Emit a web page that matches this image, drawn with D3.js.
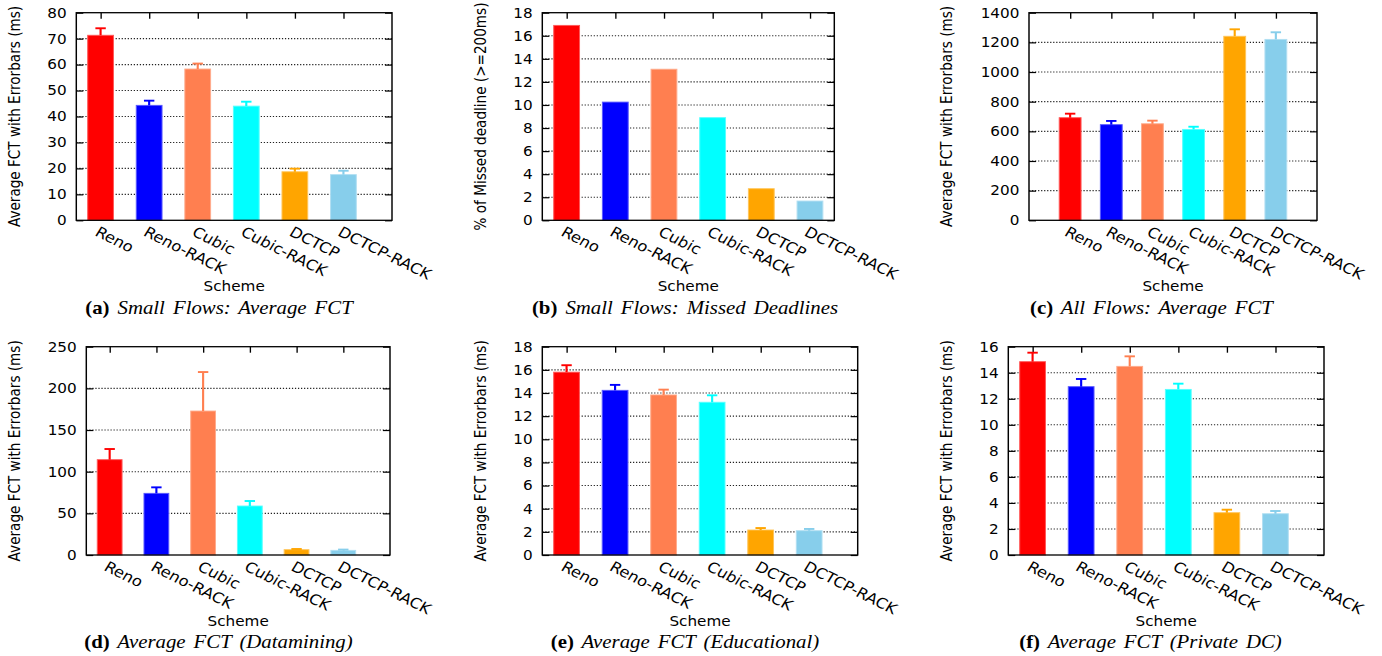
<!DOCTYPE html>
<html><head><meta charset="utf-8">
<script src="https://cdn.jsdelivr.net/npm/d3@7"></script>
<style>html,body{margin:0;padding:0;background:#fff;} svg{display:block;}</style>
</head><body>
<script>
// ---------- data ----------
const schemes = ["Reno", "Reno-RACK", "Cubic", "Cubic-RACK", "DCTCP", "DCTCP-RACK"];
const barColors = ["#ff0000", "#0000ff", "#ff7f50", "#00ffff", "#ffa500", "#87ceeb"];

const smallFctValues = [71.3, 44.3, 58.3, 44.0, 18.7, 17.6];
const smallFctErrors = [2.7, 1.8, 2.1, 1.7, 1.2, 1.5];
const missedDeadlineValues = [16.9, 10.25, 13.1, 8.9, 2.74, 1.67];
const allFctValues = [692, 645, 651, 613, 1241, 1220];
const allFctErrors = [27, 25, 21, 18, 47, 48];
const dataminingValues = [114.4, 74.0, 172.8, 58.8, 6.4, 5.6];
const dataminingErrors = [12.8, 7.2, 46.8, 6.0, 0.8, 0.9];
const educationalValues = [15.8, 14.23, 13.83, 13.2, 2.16, 2.1];
const educationalErrors = [0.6, 0.47, 0.46, 0.6, 0.17, 0.15];
const privateDcValues = [14.85, 12.93, 14.49, 12.72, 3.25, 3.17];
const privateDcErrors = [0.69, 0.59, 0.77, 0.44, 0.23, 0.21];

const yTicksA = [0, 10, 20, 30, 40, 50, 60, 70, 80];
const yTicksB = [0, 2, 4, 6, 8, 10, 12, 14, 16, 18];
const yTicksC = [0, 200, 400, 600, 800, 1000, 1200, 1400];
const yTicksD = [0, 50, 100, 150, 200, 250];
const yTicksE = [0, 2, 4, 6, 8, 10, 12, 14, 16, 18];
const yTicksF = [0, 2, 4, 6, 8, 10, 12, 14, 16];

const captionLetters = ["(a)", "(b)", "(c)", "(d)", "(e)", "(f)"];
const captionTexts = ["Small Flows: Average FCT", "Small Flows: Missed Deadlines", "All Flows: Average FCT",
  "Average FCT (Datamining)", "Average FCT (Educational)", "Average FCT (Private DC)"];
const yTitleFct = "Average FCT with Errorbars (ms)";
const yTitleMissed = "% of Missed deadline (>=200ms)";
const xTitle = "Scheme";

// ---------- layout ----------
const W = 1382, H = 656, SX = 1.12;
const X = t => t / SX;
const SANS = "DejaVu Sans", SERIF = "Liberation Serif";
const FS = 13.6;

const panels = [
  {vals: smallFctValues, errs: smallFctErrors, ticks: yTicksA, yt: yTitleFct,
   L: 76.3, R: 392, T: 12.7, B: 220.3, xd: [-0.5, 6], ytx: 15.5, capX: 219, capY: 314.5, schY: 291.5},
  {vals: missedDeadlineValues, errs: null, ticks: yTicksB, yt: yTitleMissed,
   L: 542.3, R: 834.3, T: 12.7, B: 220.3, xd: [-0.5, 5.5], ytx: 481.5, capX: 685, capY: 314.5, schY: 291.5},
  {vals: allFctValues, errs: allFctErrors, ticks: yTicksC, yt: yTitleFct,
   L: 1029, R: 1317, T: 12.7, B: 220.3, xd: [-1, 6], ytx: 947, capX: 1151.5, capY: 314.5, schY: 291.5},
  {vals: dataminingValues, errs: dataminingErrors, ticks: yTicksD, yt: yTitleFct,
   L: 86.3, R: 390, T: 346.7, B: 555, xd: [-0.5, 6], ytx: 15.5, capX: 218.5, capY: 648, schY: 626},
  {vals: educationalValues, errs: educationalErrors, ticks: yTicksE, yt: yTitleFct,
   L: 542.3, R: 857.7, T: 346.7, B: 555, xd: [-0.5, 6], ytx: 481.5, capX: 685, capY: 648, schY: 626},
  {vals: privateDcValues, errs: privateDcErrors, ticks: yTicksF, yt: yTitleFct,
   L: 1008.3, R: 1324, T: 346.7, B: 555, xd: [-0.5, 6], ytx: 947, capX: 1150.5, capY: 648, schY: 626}
];

const svg = d3.select("body").append("svg").attr("width", W).attr("height", H);
const root = svg.append("g").attr("transform", `scale(${SX},1)`);

function styleAxis(sel) {
  sel.attr("font-family", SANS).attr("font-size", FS);
  sel.select(".domain").remove();
  sel.selectAll(".tick line").attr("stroke", "#000").attr("stroke-width", 1.2);
  sel.selectAll(".tick text").attr("fill", "#000");
}

panels.forEach((p, k) => {
  const g = root.append("g");
  const yMax = p.ticks[p.ticks.length - 1];
  const x = d3.scaleLinear().domain(p.xd).range([X(p.L), X(p.R)]);
  const y = d3.scaleLinear().domain([0, yMax]).range([p.B, p.T]);
  const idx = d3.range(schemes.length);

  // grid
  g.append("g").selectAll("line").data(p.ticks.filter(v => v > 0 && v < yMax)).join("line")
    .attr("x1", X(p.L)).attr("x2", X(p.R))
    .attr("y1", d => y(d)).attr("y2", d => y(d))
    .attr("stroke", "#222").attr("stroke-width", 1.1).attr("stroke-dasharray", "1.1,1.6");

  // axes
  const TL = 7;
  g.append("g").attr("transform", `translate(${X(p.L)},0)`)
    .call(d3.axisLeft(y).tickValues(p.ticks).tickSize(-TL / SX).tickPadding(9.6 / SX).tickFormat(d3.format("d")))
    .call(styleAxis);
  g.append("g").attr("transform", `translate(${X(p.R)},0)`)
    .call(d3.axisRight(y).tickValues(p.ticks).tickSize(-TL / SX).tickFormat(""))
    .call(styleAxis);
  g.append("g").attr("transform", `translate(0,${p.T})`)
    .call(d3.axisTop(x).tickValues(idx).tickSize(-6).tickFormat(""))
    .call(styleAxis);
  const bx = g.append("g").attr("transform", `translate(0,${p.B})`)
    .call(d3.axisBottom(x).tickValues(idx).tickSize(-6).tickFormat(i => schemes[i]))
    .call(styleAxis);
  bx.selectAll(".tick text")
    .attr("x", 0).attr("y", 0).attr("dy", "0.72em")
    .attr("font-size", 14.6)
    .attr("text-anchor", "start")
    .attr("transform", `translate(${-1.5 / SX},5.5) rotate(29)`);

  // bars
  const bw = x(0.53) - x(0);
  g.append("g").selectAll("rect").data(idx).join("rect")
    .attr("x", i => x(i) - bw / 2).attr("width", bw)
    .attr("y", i => y(p.vals[i])).attr("height", i => y(0) - y(p.vals[i]))
    .attr("fill", i => barColors[i])
    .attr("stroke", i => d3.interpolateRgb(barColors[i], "#fff")(0.35))
    .attr("stroke-width", 0.9);

  // error bars (upper whisker)
  if (p.errs) {
    const cw = 5.2 / SX;
    const eg = g.append("g").selectAll("g").data(idx).join("g")
      .attr("stroke", i => barColors[i]).attr("stroke-width", 1.9);
    eg.append("line")
      .attr("x1", i => x(i)).attr("x2", i => x(i))
      .attr("y1", i => y(p.vals[i])).attr("y2", i => y(p.vals[i] + p.errs[i]));
    eg.append("line")
      .attr("x1", i => x(i) - cw).attr("x2", i => x(i) + cw)
      .attr("y1", i => y(p.vals[i] + p.errs[i])).attr("y2", i => y(p.vals[i] + p.errs[i]));
  }

  // frame
  g.append("rect").attr("x", X(p.L)).attr("y", p.T)
    .attr("width", X(p.R) - X(p.L)).attr("height", p.B - p.T)
    .attr("fill", "none").attr("stroke", "#000").attr("stroke-width", 1.3);

  // y title
  g.append("text")
    .attr("transform", `translate(${X(p.ytx)},${(p.T + p.B) / 2}) rotate(-90)`)
    .attr("dy", "0.3em").attr("text-anchor", "middle")
    .attr("font-family", SANS).attr("font-size", FS).attr("fill", "#000")
    .text(p.yt);

  // x title
  g.append("text")
    .attr("x", X((p.L + p.R) / 2)).attr("y", p.schY)
    .attr("text-anchor", "middle")
    .attr("font-family", SANS).attr("font-size", FS).attr("fill", "#000")
    .text(xTitle);

  // caption
  const cap = g.append("text")
    .attr("x", X(p.capX)).attr("y", p.capY)
    .attr("text-anchor", "middle")
    .attr("font-family", SERIF).attr("font-size", 18.6).attr("fill", "#000")
    .attr("word-spacing", 2.5);
  cap.append("tspan").attr("font-weight", "bold").text(captionLetters[k]);
  cap.append("tspan").attr("font-style", "italic").text(" " + captionTexts[k]);
});
</script>
</body></html>
